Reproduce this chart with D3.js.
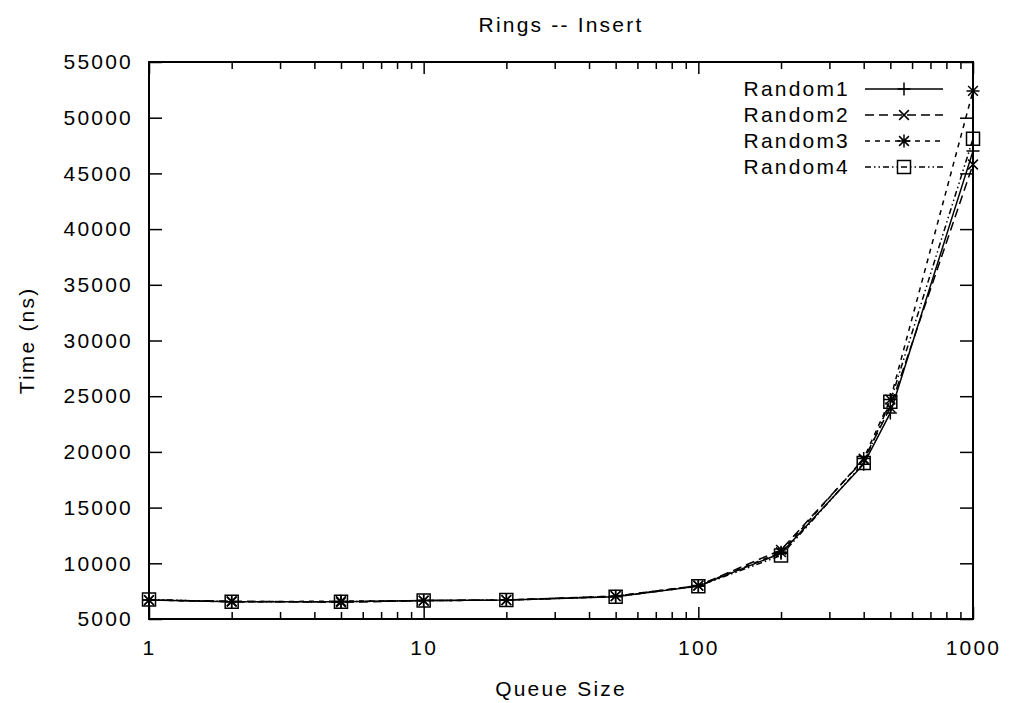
<!DOCTYPE html>
<html>
<head>
<meta charset="utf-8">
<script src="https://cdn.jsdelivr.net/npm/d3@7"></script>
<style>
  body { margin: 0; background: #fff; }
  svg { display: block; }
  text { font-family: "Liberation Sans", Arial, sans-serif; font-size: 21px; letter-spacing: 2.2px; fill: #000; }
</style>
</head>
<body>
<svg id="chart" width="1011" height="703"></svg>
<script>
const queueSizes = [1, 2, 5, 10, 20, 50, 100, 200, 400, 500, 1000];
const random1 = [6700, 6550, 6550, 6650, 6700, 7000, 7950, 10900, 18900, 23500, 47000];
const random2 = [6700, 6600, 6500, 6650, 6700, 7050, 8000, 11200, 19300, 24000, 45800];
const random3 = [6700, 6550, 6600, 6650, 6700, 7050, 8000, 11000, 19400, 24700, 52400];
const random4 = [6750, 6550, 6550, 6650, 6700, 7000, 7950, 10700, 19000, 24500, 48100];
const seriesNames = ["Random1", "Random2", "Random3", "Random4"];
const xMajorTicks = [1, 10, 100, 1000];
const yTicks = d3.range(5000, 55001, 5000);

const margin = { top: 62, right: 38, bottom: 84, left: 149 };
const width = 1011;
const height = 703;
const innerWidth = width - margin.left - margin.right;
const innerHeight = height - margin.top - margin.bottom;

const svg = d3.select("#chart");
const root = svg.append("g").attr("transform", `translate(${margin.left},${margin.top})`);

const x = d3.scaleLog().domain([1, 1000]).range([0, innerWidth]);
const y = d3.scaleLinear().domain([5000, 55000]).range([innerHeight, 0]);

// minor log ticks 2..9 in each decade
const xMinorTicks = [1, 10, 100].flatMap((d) => d3.range(2, 10).map((k) => d * k));

const series = [
  { name: seriesNames[0], values: random1, dash: null, marker: "plus" },
  { name: seriesNames[1], values: random2, dash: "9,5", marker: "cross" },
  { name: seriesNames[2], values: random3, dash: "5,5", marker: "star" },
  { name: seriesNames[3], values: random4, dash: "6,3,1.5,3,1.5,3", marker: "box" },
];

// drop d3's default axis font so the page stylesheet applies
const styleAxis = (g) => {
  g.attr("font-size", null).attr("font-family", null);
  g.select(".domain").remove();
  g.selectAll(".tick line").attr("stroke", "#000").attr("stroke-width", 1.5);
};

// tick-only axes: no label text at all
const ticksOnly = (g) => {
  styleAxis(g);
  g.selectAll("text").remove();
};

// bottom axis: major ticks with labels, minor ticks without
root.append("g")
  .attr("transform", `translate(0,${innerHeight})`)
  .call(d3.axisBottom(x).tickValues(xMajorTicks).tickSize(-12).tickPadding(21).tickFormat(d3.format("d")))
  .call(styleAxis);
root.append("g")
  .attr("transform", `translate(0,${innerHeight})`)
  .call(d3.axisBottom(x).tickValues(xMinorTicks).tickSize(-7))
  .call(ticksOnly);

// mirrored ticks on the top border
root.append("g")
  .call(d3.axisTop(x).tickValues(xMajorTicks).tickSize(-12))
  .call(ticksOnly);
root.append("g")
  .call(d3.axisTop(x).tickValues(xMinorTicks).tickSize(-7))
  .call(ticksOnly);

// y axis on the left, mirrored on the right
root.append("g")
  .call(d3.axisLeft(y).tickValues(yTicks).tickSize(-13).tickPadding(16).tickFormat(d3.format("d")))
  .call(styleAxis);
root.append("g")
  .attr("transform", `translate(${innerWidth},0)`)
  .call(d3.axisRight(y).tickValues(yTicks).tickSize(-13))
  .call(ticksOnly);

root.append("rect")
  .attr("width", innerWidth)
  .attr("height", innerHeight)
  .attr("fill", "none")
  .attr("stroke", "#000")
  .attr("stroke-width", 2);

const markerPath = (type, cx, cy) => {
  const r = 6.5;
  const p = d3.path();
  if (type === "plus" || type === "star") {
    p.moveTo(cx - r, cy); p.lineTo(cx + r, cy);
    p.moveTo(cx, cy - r); p.lineTo(cx, cy + r);
  }
  if (type === "cross" || type === "star") {
    const q = r * 0.75;
    p.moveTo(cx - q, cy - q); p.lineTo(cx + q, cy + q);
    p.moveTo(cx - q, cy + q); p.lineTo(cx + q, cy - q);
  }
  if (type === "box") {
    p.rect(cx - r, cy - r, 2 * r, 2 * r);
  }
  return p.toString();
};

const line = d3.line()
  .x((d) => x(d[0]))
  .y((d) => y(d[1]));

const plot = root.append("g");

series.forEach((s) => {
  const pts = queueSizes.map((q, i) => [q, s.values[i]]);
  plot.append("path")
    .datum(pts)
    .attr("fill", "none")
    .attr("stroke", "#000")
    .attr("stroke-width", 1.5)
    .attr("stroke-dasharray", s.dash)
    .attr("d", line);
  plot.append("g")
    .selectAll("path")
    .data(pts)
    .join("path")
    .attr("fill", "none")
    .attr("stroke", "#000")
    .attr("stroke-width", 1.5)
    .attr("d", (d) => markerPath(s.marker, x(d[0]), y(d[1])));
});

// key in the upper right corner
const legend = svg.append("g");
series.forEach((s, i) => {
  const ly = 89 + i * 26;
  legend.append("text")
    .attr("x", 850)
    .attr("y", ly)
    .attr("dy", "0.35em")
    .attr("text-anchor", "end")
    .text(s.name);
  legend.append("line")
    .attr("x1", 865).attr("x2", 943)
    .attr("y1", ly).attr("y2", ly)
    .attr("stroke", "#000")
    .attr("stroke-width", 1.5)
    .attr("stroke-dasharray", s.dash);
  legend.append("path")
    .attr("fill", "none")
    .attr("stroke", "#000")
    .attr("stroke-width", 1.5)
    .attr("d", markerPath(s.marker, 904, ly));
});

svg.append("text")
  .attr("x", margin.left + innerWidth / 2)
  .attr("y", 32)
  .attr("text-anchor", "middle")
  .text("Rings -- Insert");

svg.append("text")
  .attr("x", margin.left + innerWidth / 2)
  .attr("y", 696)
  .attr("text-anchor", "middle")
  .text("Queue Size");

svg.append("text")
  .attr("transform", `translate(34,${margin.top + innerHeight / 2}) rotate(-90)`)
  .attr("text-anchor", "middle")
  .text("Time (ns)");
</script>
</body>
</html>
